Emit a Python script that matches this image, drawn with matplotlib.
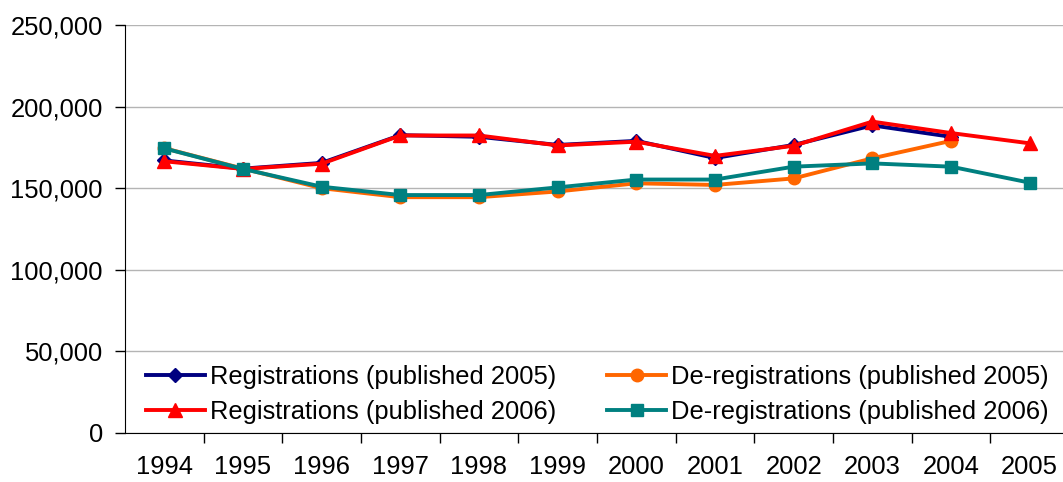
import matplotlib
matplotlib.use("Agg")
import matplotlib.pyplot as plt
from matplotlib.ticker import FuncFormatter, FixedLocator
import numpy as np

plt.rcParams['font.family'] = ['Liberation Sans', 'DejaVu Sans']

# Data
years = ['1994', '1995', '1996', '1997', '1998', '1999', '2000', '2001',
         '2002', '2003', '2004', '2005']
reg_2005 = [167000, 162000, 165500, 182500, 181500, 176500, 179000, 168500,
            176500, 188500, 181500]
dereg_2005 = [174500, 162000, 150000, 144500, 144500, 148000, 153000, 152000,
              156000, 168300, 179000]
reg_2006 = [166500, 161800, 165000, 182300, 182300, 176200, 178500, 169800,
            176000, 190800, 183800, 177500]
dereg_2006 = [174400, 161800, 150900, 145800, 145800, 150500, 155300, 155300,
              163200, 165200, 163200, 153400]

fs = 18.4
fig = plt.figure(figsize=(10.63, 4.82), dpi=100)
ax = fig.add_axes([125/1063, 49/482, 944/1063, 408/482])

x = np.arange(len(years))
lw = 2.8
l1, = ax.plot(x[:len(reg_2005)], reg_2005, color='#000080', lw=lw,
              marker='D', ms=7, label='Registrations (published 2005)', zorder=3)
l3, = ax.plot(x[:len(dereg_2005)], dereg_2005, color='#FF6600', lw=lw,
              marker='o', ms=9, label='De-registrations (published 2005)', zorder=4)
l2, = ax.plot(x, reg_2006, color='#FF0000', lw=lw,
              marker='^', ms=10, label='Registrations (published 2006)', zorder=5)
l4, = ax.plot(x, dereg_2006, color='#008080', lw=lw,
              marker='s', ms=8, label='De-registrations (published 2006)', zorder=6)

ax.set_xlim(-0.5, len(years) - 0.5)
ax.set_ylim(0, 250000)
ax.set_yticks(np.arange(0, 250001, 50000))
ax.yaxis.set_major_formatter(FuncFormatter(lambda v, p: f'{int(v):,}'))
ax.yaxis.grid(True, color='#b4b4b4', lw=1)
ax.set_axisbelow(True)

ax.set_xticks(x)
ax.set_xticklabels(years)
ax.xaxis.set_minor_locator(FixedLocator(x[:-1] + 0.5))
ax.tick_params(axis='x', which='major', length=0, pad=16, labelsize=fs)
ax.tick_params(axis='x', which='minor', length=7, width=1, direction='out')
ax.tick_params(axis='y', length=7, width=1, direction='out', pad=9, labelsize=fs)

for s in ['top', 'right']:
    ax.spines[s].set_visible(False)
ax.spines['left'].set_color('black')
ax.spines['bottom'].set_color('black')

leg = fig.legend(handles=[l1, l2, l3, l4], ncol=2, frameon=False, fontsize=fs,
                 loc='center left', bbox_to_anchor=(146/1063, 1 - 394.5/482),
                 borderpad=0, borderaxespad=0, handlelength=2.3,
                 handletextpad=0.2, columnspacing=2.0, labelspacing=0.45)

fig.savefig('out.png', dpi=100)
